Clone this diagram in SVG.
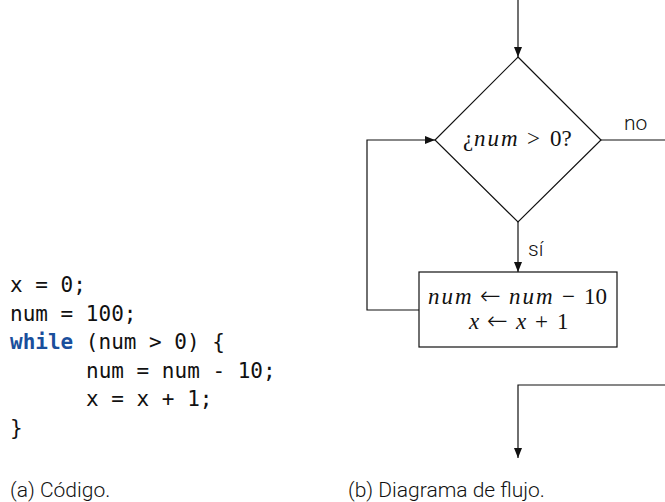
<svg xmlns="http://www.w3.org/2000/svg" width="665" height="502" viewBox="0 0 665 502">
<style>
.code{font-family:"DejaVu Sans Mono",monospace;font-size:21px;fill:#111}
.kw{fill:#1a4f9c;font-weight:bold}
.cap{font-family:Roboto,"Liberation Sans",sans-serif;font-weight:300;font-size:21px;fill:#111}
.math{font-family:"Liberation Serif",serif;font-size:23px;fill:#111}
.it{font-style:italic;letter-spacing:2px}
.sym{font-family:"DejaVu Sans",sans-serif;font-weight:200;font-size:25px}
.shape{fill:#fff;stroke:#111;stroke-width:1.2}
.line{fill:none;stroke:#111;stroke-width:1.2}
</style>
<defs>
<marker id="ah" viewBox="0 0 10 8" refX="10" refY="4" markerWidth="10" markerHeight="8" markerUnits="userSpaceOnUse" orient="auto">
<path d="M0,0 L10,4 L0,8 z" fill="#111"/>
</marker>
</defs>
<g id="code">
<text class="code" x="10" y="292" xml:space="preserve">x = 0;</text>
<text class="code" x="10" y="320.5" xml:space="preserve">num = 100;</text>
<text class="code" x="10" y="349" xml:space="preserve"><tspan class="kw">while</tspan> (num &gt; 0) {</text>
<text class="code" x="86" y="377.5" xml:space="preserve">num = num - 10;</text>
<text class="code" x="86" y="406" xml:space="preserve">x = x + 1;</text>
<text class="code" x="10" y="434.5" xml:space="preserve">}</text>
</g>
<g id="connectors">
<line class="line" x1="518" y1="0" x2="518" y2="57" marker-end="url(#ah)"/>
<line class="line" x1="601" y1="140" x2="665" y2="140"/>
<line class="line" x1="518" y1="222" x2="518" y2="272" marker-end="url(#ah)"/>
<polyline class="line" points="419,310 367,310 367,140 435,140" marker-end="url(#ah)"/>
<polyline class="line" points="665,385 518,385 518,458" marker-end="url(#ah)"/>
<text class="cap" x="624" y="130">no</text>
<text class="cap" x="528" y="256">sí</text>
</g>
<g id="decision">
<polygon class="shape" points="518,57 601,140 518,222 435,140"/>
<text class="math" y="146"><tspan x="463">¿</tspan><tspan class="it" x="474">num</tspan><tspan x="527">&gt;</tspan><tspan x="550">0?</tspan></text>
</g>
<g id="process">
<rect class="shape" x="419" y="272" width="198" height="75"/>
<text class="math" y="304"><tspan class="it" x="428">num</tspan><tspan class="sym" x="480">←</tspan><tspan class="it" x="509">num</tspan><tspan x="562">−</tspan><tspan x="584">10</tspan></text>
<text class="math" y="329"><tspan class="it" x="469">x</tspan><tspan class="sym" x="487">←</tspan><tspan class="it" x="516">x</tspan><tspan x="535">+</tspan><tspan x="557">1</tspan></text>
</g>
<g id="captions">
<text class="cap" x="10" y="497">(a) Código.</text>
<text class="cap" x="348" y="497">(b) Diagrama de flujo.</text>
</g>
</svg>
